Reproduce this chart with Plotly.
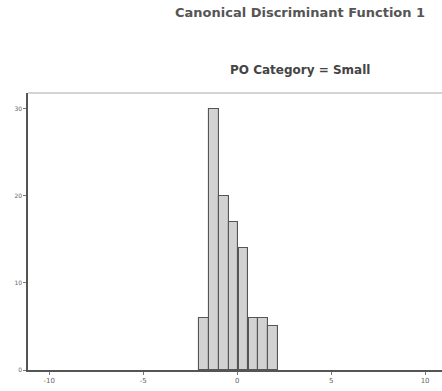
import plotly.graph_objects as go

# Histogram of discriminant scores for the "Small" PO category
bin_centers = [-1.76, -1.24, -0.71, -0.19, 0.34, 0.87, 1.39, 1.91]
counts = [6, 30, 20, 17, 14, 6, 6, 5]
bin_width = 0.52

x_ticks = [-10, -5, 0, 5, 10]
y_ticks = [0, 10, 20, 30]

fig = go.Figure()
fig.add_trace(go.Bar(
    x=bin_centers,
    y=counts,
    width=bin_width,
    marker=dict(color="#d2d2d2", line=dict(color="#555555", width=1.1)),
    showlegend=False,
))

fig.update_layout(
    width=442,
    height=391,
    margin=dict(l=28, r=0, t=93, b=21),
    paper_bgcolor="white",
    plot_bgcolor="white",
    bargap=0,
    xaxis=dict(
        range=[-11.13, 10.9],
        tickvals=x_ticks,
        ticktext=[str(v) for v in x_ticks],
        showgrid=False,
        zeroline=False,
        showline=True,
        linecolor="#555555",
        linewidth=1.5,
        ticks="outside",
        ticklen=3,
        tickcolor="#777777",
        tickfont=dict(family="DejaVu Sans", size=7, color="#666666"),
    ),
    yaxis=dict(
        range=[0, 31.8],
        tickvals=y_ticks,
        ticktext=[str(v) for v in y_ticks],
        showgrid=False,
        zeroline=False,
        showline=True,
        linecolor="#555555",
        linewidth=1.5,
        ticks="outside",
        ticklen=3,
        tickcolor="#777777",
        tickfont=dict(family="DejaVu Sans", size=6, color="#666666"),
    ),
    shapes=[dict(
        type="line", xref="paper", yref="paper",
        x0=0, x1=1, y0=1, y1=1,
        line=dict(color="#aaaaaa", width=1),
    )],
    annotations=[
        dict(
            text="<b>Canonical Discriminant Function 1</b>",
            xref="paper", yref="paper", x=0.657, y=1.289,
            xanchor="center", yanchor="middle", showarrow=False,
            font=dict(family="DejaVu Sans", size=13, color="#555555"),
        ),
        dict(
            text="<b>PO Category = Small</b>",
            xref="paper", yref="paper", x=0.657, y=1.083,
            xanchor="center", yanchor="middle", showarrow=False,
            font=dict(family="DejaVu Sans", size=12, color="#444444"),
        ),
    ],
)

fig.write_html("out.html")
